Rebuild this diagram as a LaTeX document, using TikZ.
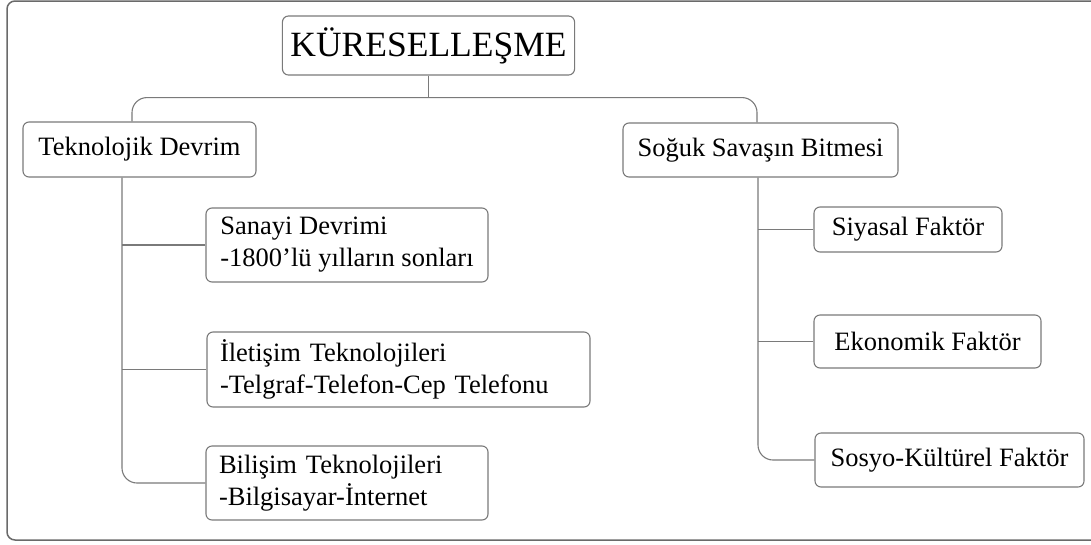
\documentclass[tikz,border=0pt]{standalone}
\usepackage{fontspec}
\setmainfont{Liberation Serif}
\usetikzlibrary{positioning}
\definecolor{linegray}{HTML}{7A7A7A}
\definecolor{framegray}{HTML}{6A6A6A}
\tikzset{
  box/.style={draw=linegray, rounded corners=6pt, line width=1.1pt, inner xsep=8pt, align=left, font=\fontsize{26.5}{32}\selectfont},
  leaf/.style={box, inner xsep=13pt, text width=#1},
  conn/.style={draw=linegray, line width=1.1pt},
}
\begin{document}
\begin{tikzpicture}[x=1pt,y=-1pt]
		\useasboundingbox (0,0) rectangle (1091,544);
		\draw [framegray,line width=1.5pt,rounded corners=8pt] (7,1) rectangle (1110,540);

		\node [box,minimum width=289pt,minimum height=59pt,font=\fontsize{35.5}{42}\selectfont] (kure) at (428.5,45.5) {KÜRESELLEŞME};
		\node [box,minimum width=233pt,minimum height=55pt] (tek) at (139.5,149.5) {Teknolojik Devrim};
		\node [box,minimum width=275pt,minimum height=54pt] (sog) at (760.5,150) {Soğuk Savaşın Bitmesi};

		\node [box,minimum width=282pt,minimum height=74pt] (san) at (347,245) {Sanayi Devrimi\\-1800’lü yılların sonları};
		\node [leaf=357pt,minimum height=75pt] (ile) at (398.5,369.5) {İletişim Teknolojileri\\-Telgraf-Telefon-Cep Telefonu};
		\node [leaf=256pt,minimum height=74pt] (bil) at (347,483) {Bilişim Teknolojileri\\-Bilgisayar-İnternet};

		\node [box,minimum width=188pt,minimum height=45pt] (siy) at (908,229.5) {Siyasal Faktör};
		\node [box,minimum width=227pt,minimum height=53pt] (eko) at (927.5,341.5) {Ekonomik Faktör};
		\node [box,minimum width=269pt,minimum height=54pt] (sos) at (949.5,460) {Sosyo-Kültürel Faktör};

		% root to the two main branches
		\draw [conn] (kure.south) -- ++(0,22) coordinate (bus);
		\draw [conn,rounded corners=15pt] ([xshift=-7.5pt]tek.north) |- (bus) -| ([xshift=-3.5pt]sog.north);

		% left side
		\draw [conn,rounded corners=15pt] ([xshift=-17.5pt]tek.south) coordinate (ltrunk) |- (bil.west);
		\draw [conn] (san.west) -- (san.west -| ltrunk);
		\draw [conn] (ile.west) -- (ile.west -| ltrunk);

		% right side
		\draw [conn,rounded corners=15pt] ([xshift=-2.5pt]sog.south) coordinate (rtrunk) |- (sos.west);
		\draw [conn] (siy.west) -- (siy.west -| rtrunk);
		\draw [conn] (eko.west) -- (eko.west -| rtrunk);
	\end{tikzpicture}
\end{document}
